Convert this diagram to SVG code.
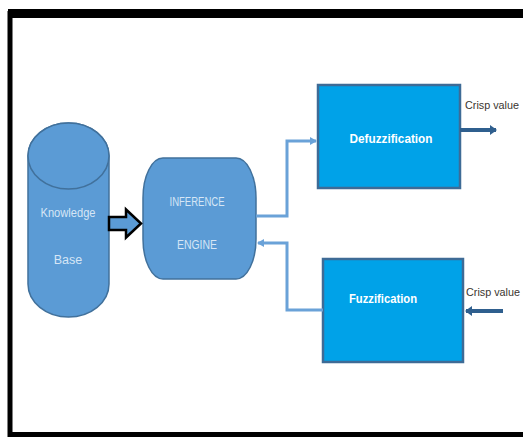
<svg xmlns="http://www.w3.org/2000/svg" width="523" height="438" viewBox="0 0 523 438">
<defs>
<style>
.shape{fill:#5b9bd5;stroke:#41719c;stroke-width:1.5}
.box{fill:#00a2e8;stroke:#3e6b96;stroke-width:2.5}
.lbl{font-family:"Liberation Sans",Arial,sans-serif;font-size:12.5px;fill:#d6e6f5;text-anchor:middle;dominant-baseline:central}
.blbl{font-family:"Liberation Sans",Arial,sans-serif;font-size:13px;font-weight:bold;fill:#ffffff;text-anchor:middle;dominant-baseline:central}
.crisp{font-family:"Liberation Sans",Arial,sans-serif;font-size:10.8px;fill:#3a3530;dominant-baseline:central}
.conn{fill:none;stroke:#6aa2d8;stroke-width:3}
.out{fill:none;stroke:#2f5f8e;stroke-width:4}
</style>
<marker id="ah" markerWidth="8" markerHeight="8" refX="6" refY="4" orient="auto" markerUnits="userSpaceOnUse">
<path d="M0,0 L7,4 L0,8 Z" fill="#6aa2d8"/>
</marker>
<marker id="ahd" markerWidth="8" markerHeight="10" refX="6" refY="5" orient="auto" markerUnits="userSpaceOnUse">
<path d="M0,0 L7,5 L0,10 Z" fill="#2f5f8e"/>
</marker>
</defs>
<rect x="0" y="0" width="523" height="438" fill="#ffffff"/>
<path d="M523,13.5 H10 V434.5 H523" fill="none" stroke="#000000" stroke-width="5"/>
<rect x="8" y="9" width="515" height="9" fill="#000000"/>
<g id="knowledge-base">
<path class="shape" d="M28,156 A40.5,33 0 0 1 109,156 V284 A40.5,33 0 0 1 28,284 Z"/>
<ellipse class="shape" cx="68.5" cy="156" rx="40.5" ry="33"/>
<text class="lbl" x="68" y="213" textLength="55" lengthAdjust="spacingAndGlyphs">Knowledge</text>
<text class="lbl" x="68" y="260">Base</text>
</g>
<g id="inference-engine">
<path class="shape" d="M163,158 H236 A20,40 0 0 1 256,198 V239 A20,40 0 0 1 236,279 H163 A20,40 0 0 1 143,239 V198 A20,40 0 0 1 163,158 Z"/>
<text class="lbl" x="197" y="202" textLength="55" lengthAdjust="spacingAndGlyphs">INFERENCE</text>
<text class="lbl" x="197" y="245" textLength="40" lengthAdjust="spacingAndGlyphs">ENGINE</text>
</g>
<g id="defuzzification">
<rect class="box" x="318" y="85" width="142" height="103"/>
<text class="blbl" x="391" y="138" textLength="83" lengthAdjust="spacingAndGlyphs">Defuzzification</text>
</g>
<g id="fuzzification">
<rect class="box" x="323" y="259" width="140" height="103"/>
<text class="blbl" x="383" y="298" textLength="68" lengthAdjust="spacingAndGlyphs">Fuzzification</text>
</g>
<g id="connectors">
<path d="M109,217 H126 V209.5 L141,223.5 L126,237.5 V230 H109 Z" fill="#5b9bd5" stroke="#000000" stroke-width="2.5" stroke-linejoin="miter"/>
<path class="conn" d="M256,216 H287 V141 H316" marker-end="url(#ah)"/>
<path class="conn" d="M323,310 H287 V243 H258" marker-end="url(#ah)"/>
<path class="out" d="M460,130 H496" marker-end="url(#ahd)"/>
<path class="out" d="M503,311 H466" marker-end="url(#ahd)" stroke-width="5"/>
</g>
<g id="labels">
<text class="crisp" x="465" y="105">Crisp value</text>
<text class="crisp" x="466" y="292">Crisp value</text>
</g>
</svg>
